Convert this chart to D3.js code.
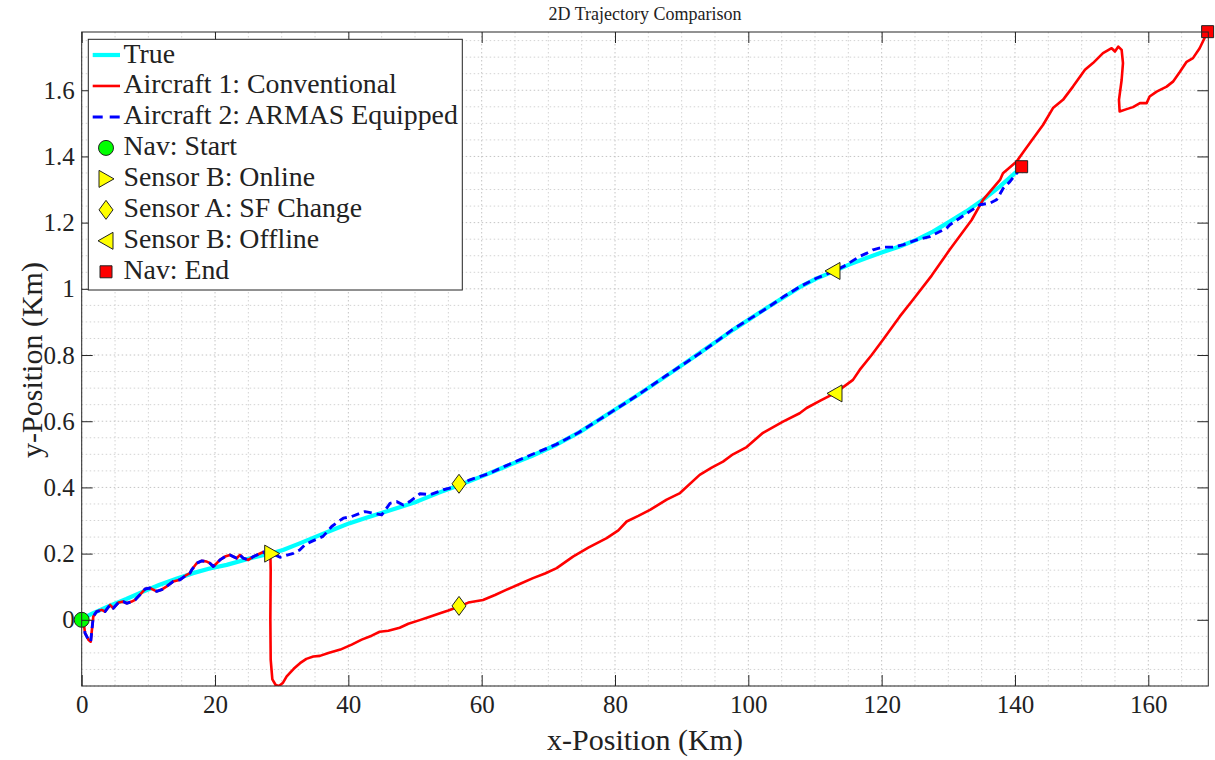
<!DOCTYPE html>
<html>
<head>
<meta charset="utf-8">
<script src="https://cdn.jsdelivr.net/npm/d3@7/dist/d3.min.js"></script>
<style>
  html, body { margin: 0; padding: 0; background: #fff; }
  svg { display: block; }
  text { font-family: "Liberation Serif", "Times New Roman", serif; fill: #222; }
</style>
</head>
<body>
<svg id="chart" width="1215" height="760"></svg>
<script>
// ---------------- DATA ----------------
const titleText = "2D Trajectory Comparison";
const xLabelText = "x-Position (Km)";
const yLabelText = "y-Position (Km)";
const xTickValues = [0, 20, 40, 60, 80, 100, 120, 140, 160];
const yTickValues = [0, 0.2, 0.4, 0.6, 0.8, 1, 1.2, 1.4, 1.6];
const xDomain = [0, 169];
const yDomain = [-0.2, 1.776];

// True trajectory
const trueX = [0, 0.75, 1.74, 4.24, 6.7, 9.2, 11.7, 14.2, 16.7, 19.2, 21.75, 25.3, 28.5, 30.2, 32.7, 35.25, 37.7, 40.2, 42.7, 45.2, 47.7, 50.25, 53.7, 56.5, 60.2, 63.7, 67.5, 71.2, 74.7, 78.2, 83.2, 87.7, 92.7, 97.7, 102.75, 107.7, 110.2, 112.7, 115.2, 117.7, 120.2, 122.7, 125.2, 127.7, 130.2, 132.7, 135.2, 137.7, 140.25, 141];
const trueY = [0, 0.01, 0.02, 0.043, 0.063, 0.085, 0.106, 0.124, 0.141, 0.155, 0.166, 0.186, 0.201, 0.211, 0.231, 0.252, 0.272, 0.292, 0.308, 0.324, 0.34, 0.357, 0.385, 0.406, 0.435, 0.464, 0.495, 0.529, 0.567, 0.612, 0.676, 0.737, 0.806, 0.876, 0.942, 1.005, 1.031, 1.052, 1.074, 1.093, 1.111, 1.128, 1.148, 1.173, 1.203, 1.234, 1.269, 1.309, 1.354, 1.369];

// Aircraft 1: Conventional
const convX = [0, 0.24, 0.5, 1.0, 1.35, 1.74, 2.25, 3.0, 3.5, 4.25, 4.74, 5.5, 6.24, 6.75, 7.5, 8.0, 8.74, 9.5, 10.24, 11.25, 12.0, 12.75, 13.74, 14.74, 15.75, 16.24, 16.5, 17.25, 18.0, 18.75, 19.24, 19.74, 20.25, 20.74, 21.5, 22.24, 22.74, 23.25, 23.74, 24.24, 25.0, 25.74, 26.5, 27.25, 27.75, 28.3,
  28.35, 28.3, 28.35, 28.6, 29.1, 29.6, 30.2, 30.75, 31.8, 32.75, 33.7, 34.74, 35.74, 37.0, 38.8, 40.5, 42.0, 43.5, 44.7, 46.0, 47.7, 49.0, 50.7, 52.0, 53.75, 55.0, 56.6, 58.0, 60.2, 62.0, 63.75, 65.7, 67.7, 69.5, 71.25, 73.7, 76.0, 78.75, 80.5, 81.75, 83.5, 85.25, 87.75, 89.75, 92.7, 94.5, 96.2, 97.7, 99.75, 102.2, 105.2, 107.7, 108.75, 110.8, 113.0, 115.7, 116.7, 118.5, 120.2, 122.7, 124.7, 127.5, 130.2, 133.5, 135.2, 137.75, 138.2, 140.25, 141.5, 142.75, 144.2, 145.7, 147.2, 148.7, 150.5, 151.7, 153.2, 154.5, 155.0, 155.5, 156.0, 156.2, 156.0, 155.6, 155.7, 156.75, 157.7, 158.75, 159.75, 160.2, 161.25, 162.75, 163.7, 164.75, 165.75, 166.7, 167.7, 168.9];
const convY = [0, 0, -0.04, -0.06, -0.066, 0.01, 0.025, 0.03, 0.025, 0.045, 0.035, 0.052, 0.055, 0.05, 0.055, 0.06, 0.076, 0.093, 0.096, 0.086, 0.091, 0.101, 0.116, 0.121, 0.136, 0.141, 0.151, 0.171, 0.178, 0.176, 0.171, 0.161, 0.171, 0.181, 0.191, 0.196, 0.191, 0.186, 0.196, 0.186, 0.181, 0.191, 0.198, 0.205, 0.196, 0.201,
  0.15, 0.0, -0.12, -0.18, -0.197, -0.2, -0.19, -0.171, -0.148, -0.131, -0.118, -0.111, -0.109, -0.1, -0.09, -0.075, -0.06, -0.048, -0.036, -0.033, -0.024, -0.012, -0.001, 0.008, 0.02, 0.028, 0.04, 0.052, 0.06, 0.075, 0.091, 0.108, 0.126, 0.14, 0.156, 0.191, 0.218, 0.247, 0.27, 0.297, 0.314, 0.332, 0.363, 0.383, 0.438, 0.46, 0.478, 0.5, 0.522, 0.565, 0.599, 0.624, 0.64, 0.662, 0.685, 0.725, 0.755, 0.8, 0.846, 0.916, 0.967, 1.04, 1.118, 1.208, 1.269, 1.329, 1.349, 1.385, 1.42, 1.455, 1.495, 1.546, 1.571, 1.611, 1.662, 1.682, 1.712, 1.727, 1.717, 1.732, 1.722, 1.682, 1.631, 1.571, 1.536, 1.543, 1.549, 1.561, 1.561, 1.581, 1.596, 1.611, 1.626, 1.656, 1.686, 1.697, 1.727, 1.777];

// Aircraft 2: ARMAS Equipped
const armasX = [0, 0.24, 0.5, 1.0, 1.35, 1.74, 2.25, 3.0, 3.5, 4.25, 4.74, 5.5, 6.24, 6.75, 7.5, 8.0, 8.74, 9.5, 10.24, 11.25, 12.0, 12.75, 13.74, 14.74, 15.75, 16.24, 16.5, 17.25, 18.0, 18.75, 19.24, 19.74, 20.25, 20.74, 21.5, 22.24, 22.74, 23.25, 23.74, 24.24, 25.0, 25.74, 26.5, 27.25, 27.75, 28.5,
  29.75, 31.75, 32.7, 33.5, 34.5, 36.2, 37.5, 38.5, 39.24, 40.5, 41.74, 42.5, 43.74, 45.0, 46.25, 47.25, 48.24, 49.2, 50.74, 52.24, 54.24, 56.25, 58.24, 61.24, 63.7, 67.0, 71.2, 74.5, 78.2, 83.2, 87.7, 90.5, 92.7, 95.5, 97.7, 100.5, 102.75, 105.2, 107.7, 110.2, 112.7, 114.24, 116.7, 117.7, 118.7, 120.2, 121.7, 123.2, 125.25, 127.24, 128.74, 129.74, 130.2, 131.74, 133.24, 134.74, 136.24, 137.24, 138.24, 139.24, 140.24, 141];
const armasY = [0, 0, -0.04, -0.06, -0.066, 0.01, 0.025, 0.03, 0.025, 0.045, 0.035, 0.052, 0.055, 0.05, 0.055, 0.06, 0.076, 0.093, 0.096, 0.086, 0.091, 0.101, 0.116, 0.121, 0.136, 0.141, 0.151, 0.171, 0.178, 0.176, 0.171, 0.161, 0.171, 0.181, 0.191, 0.196, 0.191, 0.186, 0.196, 0.186, 0.181, 0.191, 0.198, 0.205, 0.196, 0.201,
  0.189, 0.201, 0.211, 0.227, 0.237, 0.252, 0.282, 0.297, 0.307, 0.312, 0.322, 0.327, 0.322, 0.317, 0.352, 0.357, 0.347, 0.357, 0.381, 0.378, 0.393, 0.403, 0.423, 0.443, 0.466, 0.495, 0.53, 0.565, 0.612, 0.676, 0.738, 0.775, 0.805, 0.845, 0.878, 0.913, 0.941, 0.975, 1.006, 1.032, 1.052, 1.067, 1.098, 1.107, 1.118, 1.126, 1.126, 1.133, 1.148, 1.158, 1.173, 1.183, 1.193, 1.214, 1.234, 1.254, 1.259, 1.269, 1.304, 1.324, 1.349, 1.369];

// Event markers
const startPts = [[0, 0]];
const onlinePts = [[28.5, 0.2]];
const sfChangePts = [[56.6, 0.411], [56.6, 0.042]];
const offlinePts = [[112.7, 1.054], [113.0, 0.684]];
const endPts = [[141, 1.369], [168.9, 1.777]];

const legendLabels = ["True", "Aircraft 1: Conventional", "Aircraft 2: ARMAS Equipped", "Nav: Start", "Sensor B: Online", "Sensor A: SF Change", "Sensor B: Offline", "Nav: End"];

// ---------------- DRAW ----------------
const svg = d3.select("#chart");
const L = 81.7, R = 1208.3, T = 32, B = 686;
const x = d3.scaleLinear().domain(xDomain).range([L, R]);
const y = d3.scaleLinear().domain(yDomain).range([B, T]);

svg.append("rect").attr("width", 1215).attr("height", 760).attr("fill", "#fff");

// grid (minor and major, dotted)
const gx = svg.append("g");
const xMinor = d3.range(0, 169.01, 5);
const yMinor = d3.range(-0.2, 1.7761, 0.05);
gx.selectAll("line.vx").data(xMinor).join("line")
  .attr("x1", d => x(d)).attr("x2", d => x(d)).attr("y1", T).attr("y2", B)
  .attr("stroke", d => (Math.abs(d % 20) < 1e-6 ? "#c4c4c4" : "#d3d3d3"))
  .attr("stroke-width", 1).attr("stroke-dasharray", "1.5,2.5");
gx.selectAll("line.hy").data(yMinor).join("line")
  .attr("x1", L).attr("x2", R).attr("y1", d => y(d)).attr("y2", d => y(d))
  .attr("stroke", d => (Math.abs(Math.round(d * 100) % 20) < 1e-6 ? "#c4c4c4" : "#d3d3d3"))
  .attr("stroke-width", 1).attr("stroke-dasharray", "1.5,2.5");

// clip
svg.append("clipPath").attr("id", "clip").append("rect")
  .attr("x", L).attr("y", T).attr("width", R - L).attr("height", B - T);

const line = d3.line().x(d => x(d[0])).y(d => y(d[1]));
const zip = (a, b) => a.map((v, i) => [v, b[i]]);

const plot = svg.append("g").attr("clip-path", "url(#clip)");
plot.append("path").attr("d", line(zip(trueX, trueY)))
  .attr("fill", "none").attr("stroke", "#00ffff").attr("stroke-width", 4.2).attr("stroke-linejoin", "round");
plot.append("path").attr("d", line(zip(convX, convY)))
  .attr("fill", "none").attr("stroke", "#ff0000").attr("stroke-width", 2.6).attr("stroke-linejoin", "round");
plot.append("path").attr("d", line(zip(armasX, armasY)))
  .attr("fill", "none").attr("stroke", "#0000ff").attr("stroke-width", 2.9)
  .attr("stroke-dasharray", "8,5").attr("stroke-linejoin", "round");

// marker shapes
const shapes = {
  right: "M-7,-8.5L8,0L-7,8.5Z",
  left: "M7,-8.5L-8,0L7,8.5Z",
  diamond: "M0,-9.5L7,0L0,9.5L-7,0Z",
  square: "M-6,-6L6,-6L6,6L-6,6Z"
};
function markers(pts, shape, fill) {
  svg.append("g").selectAll("path").data(pts).join("path")
    .attr("transform", d => `translate(${x(d[0])},${y(d[1])})`)
    .attr("d", shapes[shape]).attr("fill", fill).attr("stroke", "#222").attr("stroke-width", 1);
}
svg.append("g").selectAll("circle").data(startPts).join("circle")
  .attr("cx", d => x(d[0])).attr("cy", d => y(d[1])).attr("r", 7.5)
  .attr("fill", "#00ff00").attr("stroke", "#222").attr("stroke-width", 1);
markers(onlinePts, "right", "#ffff00");
markers(sfChangePts, "diamond", "#ffff00");
markers(offlinePts, "left", "#ffff00");
markers(endPts, "square", "#ff0000");

// axes (ticks inside)
const tk = 11;
const axB = svg.append("g").attr("transform", `translate(0,${B})`)
  .call(d3.axisBottom(x).tickValues(xTickValues).tickSizeInner(-tk).tickSizeOuter(0).tickPadding(9).tickFormat(d3.format("d")));
const axL = svg.append("g").attr("transform", `translate(${L},0)`)
  .call(d3.axisLeft(y).tickValues(yTickValues).tickSizeInner(-tk).tickSizeOuter(0).tickPadding(7).tickFormat(d => String(+d.toFixed(1))));
const axT = svg.append("g").attr("transform", `translate(0,${T})`)
  .call(d3.axisTop(x).tickValues(xTickValues).tickSizeInner(-tk).tickSizeOuter(0).tickFormat(""));
const axR = svg.append("g").attr("transform", `translate(${R},0)`)
  .call(d3.axisRight(y).tickValues(yTickValues).tickSizeInner(-tk).tickSizeOuter(0).tickFormat(""));
[axB, axL, axT, axR].forEach(a => {
  a.select(".domain").remove();
  a.selectAll("line").attr("stroke", "#262626");
  a.selectAll("text").attr("font-family", "'Liberation Serif', serif").attr("font-size", 25).attr("fill", "#262626");
});
svg.append("rect").attr("x", L).attr("y", T).attr("width", R - L).attr("height", B - T)
  .attr("fill", "none").attr("stroke", "#262626").attr("stroke-width", 1);

// labels
svg.append("text").attr("x", (L + R) / 2).attr("y", 20).attr("text-anchor", "middle")
  .attr("font-size", 18).attr("fill", "#111").text(titleText);
svg.append("text").attr("x", (L + R) / 2).attr("y", 750).attr("text-anchor", "middle")
  .attr("font-size", 30).attr("fill", "#262626").text(xLabelText);
svg.append("text").attr("transform", "translate(42,360) rotate(-90)").attr("text-anchor", "middle")
  .attr("font-size", 30).attr("fill", "#262626").text(yLabelText);

// legend
const lg = svg.append("g");
lg.append("rect").attr("x", 88.3).attr("y", 39.3).attr("width", 374).attr("height", 250.7)
  .attr("fill", "#fff").attr("stroke", "#222").attr("stroke-width", 1);
const baseY = 62.5, step = 30.97;
legendLabels.forEach((t, i) => {
  const by = baseY + i * step, cy = by - 7.5;
  lg.append("text").attr("x", 123.5).attr("y", by).attr("font-size", 27.8).attr("fill", "#111").text(t);
  if (i === 0) lg.append("line").attr("x1", 92.7).attr("x2", 120).attr("y1", cy).attr("y2", cy).attr("stroke", "#00ffff").attr("stroke-width", 4.2);
  if (i === 1) lg.append("line").attr("x1", 92.7).attr("x2", 120).attr("y1", cy).attr("y2", cy).attr("stroke", "#ff0000").attr("stroke-width", 2.6);
  if (i === 2) lg.append("line").attr("x1", 92.7).attr("x2", 120).attr("y1", cy).attr("y2", cy).attr("stroke", "#0000ff").attr("stroke-width", 2.9).attr("stroke-dasharray", "10,7");
  const mx = 106;
  if (i === 3) lg.append("circle").attr("cx", mx).attr("cy", cy).attr("r", 7.5).attr("fill", "#00ff00").attr("stroke", "#222");
  const shp = {4: ["right", "#ffff00"], 5: ["diamond", "#ffff00"], 6: ["left", "#ffff00"], 7: ["square", "#ff0000"]}[i];
  if (shp) lg.append("path").attr("transform", `translate(${mx},${cy})`).attr("d", shapes[shp[0]])
    .attr("fill", shp[1]).attr("stroke", "#222").attr("stroke-width", 1);
});
</script>
</body>
</html>
